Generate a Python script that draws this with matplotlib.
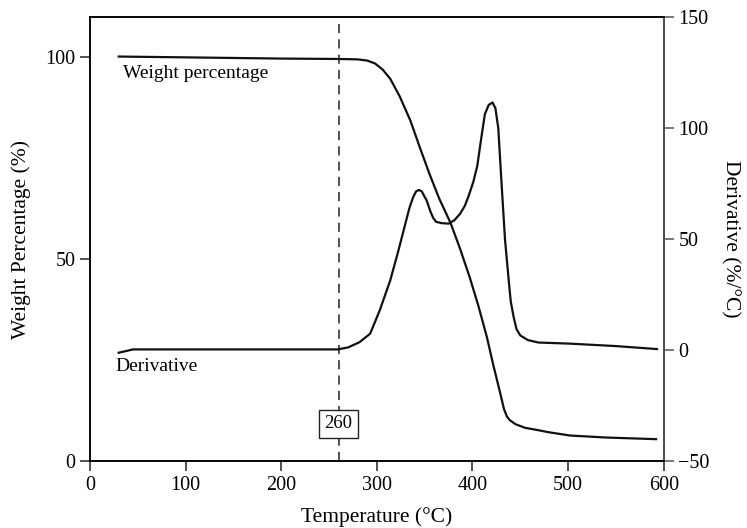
import numpy as np
import matplotlib.pyplot as plt

plt.rcParams['font.family'] = ['Liberation Serif', 'DejaVu Serif']

# weight percentage curve (left axis)
temp_w = [30, 100, 200, 260, 280, 290, 298, 306, 314, 324, 335, 345, 355, 365,
          377, 387, 397, 406, 415, 422, 429, 433, 436, 439, 445, 455, 467, 480,
          502, 540, 592]
weight = [100, 99.8, 99.5, 99.4, 99.3, 99.0, 98.3, 96.8, 94.5, 90.1, 84.2,
          77.5, 71, 65, 58.9, 52.5, 45.5, 38.5, 30.7, 23.5, 16.8, 12.8, 11,
          10.1, 9.1, 8.2, 7.7, 7.1, 6.3, 5.8, 5.4]

# derivative curve (right axis)
temp_d = [30, 45, 100, 200, 259, 270, 282, 293, 303, 314, 322, 328, 334, 338,
          341, 344, 347, 352, 356, 359, 362, 368, 375, 381, 387, 392, 396, 401,
          405, 409, 413, 417, 421, 424, 427, 430, 434, 438, 440, 443, 446, 450,
          458, 469, 502, 550, 593]
deriv = [-1.2, 0.3, 0.3, 0.3, 0.3, 1.2, 3.6, 7.4, 17.9, 31.4, 44, 54, 64, 69,
         71.5, 72.2, 71.5, 67.5, 62.5, 59.5, 57.8, 57.2, 57, 58.5, 61.4, 65,
         69.5, 76, 83, 95, 106.4, 110.5, 111.6, 109, 100, 78, 50, 31, 22, 15,
         9.5, 6.6, 4.5, 3.4, 2.9, 1.8, 0.45]

onset = 260

fig = plt.figure(figsize=(7.47, 5.28), dpi=100)
ax = fig.add_axes([0.1205, 0.1269, 0.768, 0.8403])
ax2 = ax.twinx()

ax.plot(temp_w, weight, color='#111111', linewidth=1.6)
ax2.plot(temp_d, deriv, color='#111111', linewidth=1.6)
ax.axvline(onset, color='#222222', linewidth=1.1, linestyle=(0, (6, 4)))

ax.set_xlim(0, 600)
ax.set_ylim(0, 109.7)
ax2.set_ylim(-50, 150)
ax.set_xticks([0, 100, 200, 300, 400, 500, 600])
ax.set_yticks([0, 50, 100])
ax2.set_yticks([-50, 0, 50, 100, 150])
ax2.set_yticklabels(['\u221250', '0', '50', '100', '150'])

for a in (ax, ax2):
    a.tick_params(labelsize=14.5, length=7, width=1.1, direction='out', color='#222222')
    for s in a.spines.values():
        s.set_linewidth(1.1)
ax2.spines['right'].set_color('#555555')
ax2.tick_params(color='#555555')

ax.set_xlabel('Temperature (\u00b0C)', fontsize=15.5, labelpad=9)
ax.set_ylabel('Weight Percentage (%)', fontsize=15.5, labelpad=10)
ax2.set_ylabel('Derivative (%/\u00b0C)', fontsize=15.5, rotation=270, labelpad=22)

ax.text(34, 95.8, 'Weight percentage', fontsize=14, va='center', ha='left')
ax2.text(27, -7.5, 'Derivative', fontsize=14, va='center', ha='left')
ax.text(onset, 9.2, '260', fontsize=13.5, ha='center', va='center',
        bbox=dict(boxstyle='square,pad=0.3', facecolor='white', edgecolor='#222222', linewidth=1))

fig.savefig('out.png', dpi=100)
